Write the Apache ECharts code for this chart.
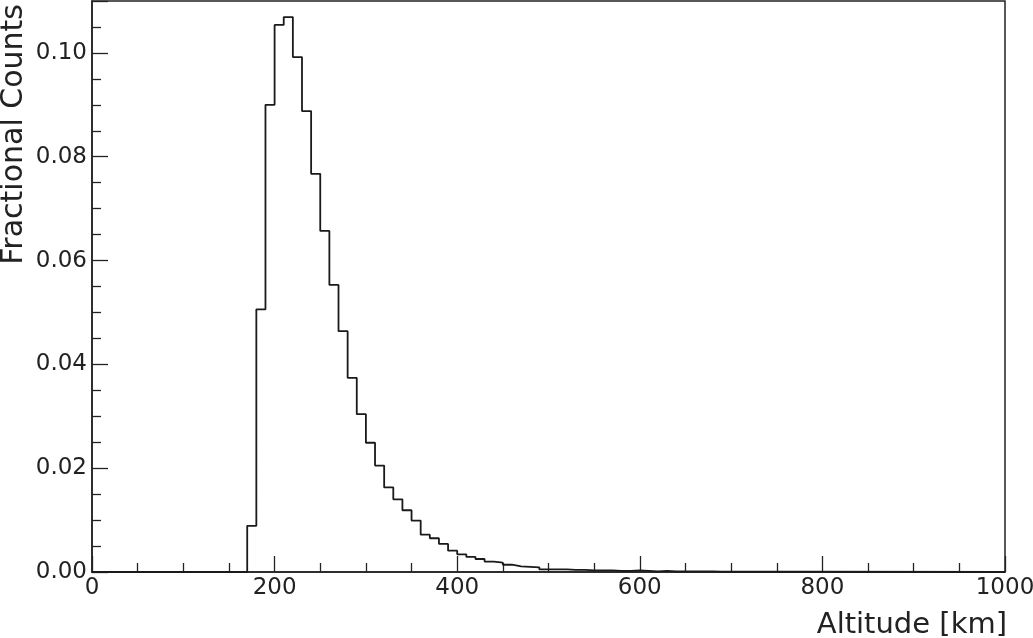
<!DOCTYPE html>
<html>
<head>
<meta charset="utf-8">
<script src="https://cdn.jsdelivr.net/npm/echarts@6/dist/echarts.min.js"></script>
<style>
    html, body { margin: 0; padding: 0; background: #fff; }
    #main { width: 1033px; height: 638px; }
</style>
</head>
<body>
<div id="main"></div>
<script>
// histogram: 10 km bins, first non-empty bin starts at 170 km
var binWidth = 10;
var firstBin = 170;
var fractions = [
    0.0089, 0.0506, 0.0900, 0.1054, 0.1069, 0.0992, 0.0888, 0.0767, 0.0657, 0.0553,
    0.0464, 0.0374, 0.0304, 0.0249, 0.0205, 0.0163, 0.0140, 0.0119, 0.0099, 0.0072,
    0.0065, 0.0054, 0.0041, 0.0034, 0.0029, 0.0025, 0.0020, 0.0018, 0.0014, 0.0011,
    0.0010, 0.0009, 0.0005, 0.0005, 0.0005, 0.0004, 0.0004, 0.0003, 0.0003, 0.0003,
    0.0002, 0.0002, 0.0003, 0.0002, 0.0001, 0.0002, 0.0001, 0.0001, 0.0001, 0.0001,
    0.0001, 0.00005, 0.00005, 0.00005, 0.00005, 0.00005, 0.00005, 0.00005, 0.00005, 0.00005,
    0.00005
];
var xRange = [0, 1000];
var yRange = [0, 0.11];

var points = [[xRange[0], 0]];
fractions.forEach(function (v, i) {
    points.push([firstBin + i * binWidth, v]);
});
points.push([firstBin + fractions.length * binWidth, 0]);
points.push([xRange[1], 0]);

var myChart = echarts.init(document.querySelector('#main'));

var axisColor = '#222';
var font = 'DejaVu Sans';

var option = {
    animation: false,
    grid: {
        left: 92,
        right: 28,
        top: 1,
        bottom: 66,
        outerBoundsMode: 'none',
        containLabel: false,
        show: true,
        borderColor: axisColor,
        borderWidth: 1.5,
    },
    xAxis: {
        type: 'value',
        min: xRange[0],
        max: xRange[1],
        interval: 200,
        name: 'Altitude [km]',
        nameLocation: 'end',
        nameGap: 2,
        nameTextStyle: {
            fontFamily: font,
            fontSize: 29,
            color: '#222',
            align: 'right',
            verticalAlign: 'top',
            padding: [39, 0, 0, 0],
        },
        axisLine: { lineStyle: { color: axisColor, width: 1.5 } },
        axisTick: { inside: true, length: 16, lineStyle: { color: axisColor, width: 1.3 } },
        minorTick: { show: true, splitNumber: 4, length: 9, lineStyle: { color: axisColor, width: 1.3 } },
        axisLabel: {
            fontFamily: font,
            fontSize: 23,
            color: '#222',
            margin: 5,
            formatter: function (v) { return String(v); },
        },
        splitLine: { show: false },
    },
    yAxis: {
        type: 'value',
        min: yRange[0],
        max: yRange[1],
        interval: 0.02,
        name: 'Fractional Counts',
        nameLocation: 'end',
        nameRotate: 90,
        nameGap: -3,
        nameTextStyle: {
            fontFamily: font,
            fontSize: 30,
            color: '#222',
            align: 'right',
            verticalAlign: 'bottom',
            padding: [0, 0, 63, 0],
        },
        axisLine: { show: true, lineStyle: { color: axisColor, width: 1.5 } },
        axisTick: { show: true, inside: true, length: 16, lineStyle: { color: axisColor, width: 1.3 } },
        minorTick: { show: true, splitNumber: 4, length: 9, lineStyle: { color: axisColor, width: 1.3 } },
        axisLabel: {
            fontFamily: font,
            fontSize: 23,
            color: '#222',
            margin: 5,
            showMaxLabel: false,
            formatter: function (v) { return v.toFixed(2); },
        },
        splitLine: { show: false },
    },
    series: [
        {
            type: 'line',
            step: 'end',
            data: points,
            symbol: 'none',
            lineStyle: { color: '#1a1a1a', width: 1.8 },
        },
    ],
};

myChart.setOption(option);
</script>
</body>
</html>
